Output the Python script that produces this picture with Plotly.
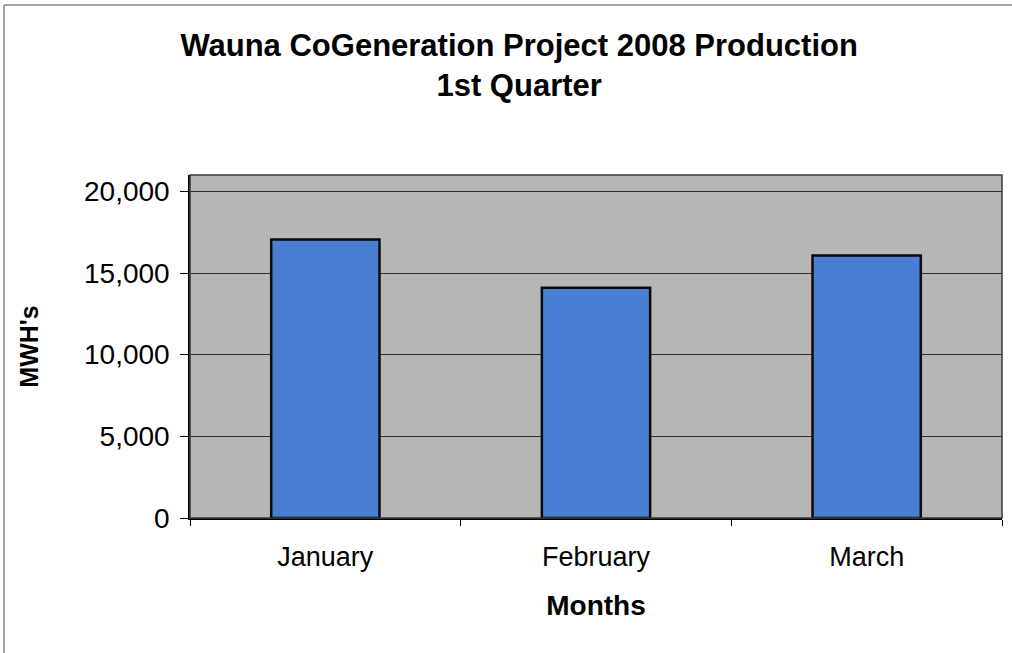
import plotly.graph_objects as go

months = ["January", "February", "March"]
mwh = [17050, 14100, 16070]
y_ticks = [0, 5000, 10000, 15000, 20000]
y_tick_text = ["0", "5,000", "10,000", "15,000", "20,000"]

fig = go.Figure()
fig.add_trace(go.Bar(
    x=months, y=mwh,
    marker=dict(color="#4a7ed2", line=dict(color="#0a0a0a", width=2.5)),
    hoverinfo="x+y",
))

fig.update_layout(
    width=1012, height=653,
    margin=dict(l=190, r=10, t=175, b=135),
    paper_bgcolor="white",
    plot_bgcolor="#b5b7b5",
    bargap=0.6,
    showlegend=False,
    font=dict(family="Liberation Sans, Arial, sans-serif", color="#000000"),
    title=dict(
        text="<b>Wauna CoGeneration Project 2008 Production<br>1st Quarter</b>",
        x=0.513, xanchor="center", y=1 - 56 / 653, yanchor="middle",
        font=dict(size=31, color="#000000"),
    ),
)

fig.update_xaxes(
    showgrid=False, showline=True, linecolor="#000000", linewidth=1.5,
    ticks="outside", tickson="boundaries", ticklen=6, tickcolor="#000000",
    tickfont=dict(size=27), mirror=False, ticklabelstandoff=14,
    title=dict(text="<b>Months</b>", font=dict(size=28), standoff=24),
)
fig.update_yaxes(
    range=[0, 21000], tickvals=y_ticks, ticktext=y_tick_text,
    showgrid=True, gridcolor="#2e2e2e", gridwidth=1.2,
    showline=True, linecolor="#000000", linewidth=1.5,
    ticks="outside", ticklen=8, tickcolor="#000000",
    tickfont=dict(size=28), zeroline=False, ticklabelstandoff=5,
    title=dict(text="<b>MWH's</b>", font=dict(size=25), standoff=38),
)

# plot frame
fig.add_shape(type="rect", xref="paper", yref="paper", x0=0, y0=0, x1=1, y1=1,
              line=dict(color="#3a3a3a", width=1.5), layer="above")
# chart border lines (top and left)
fig.add_shape(type="line", xref="paper", yref="paper", x0=-0.229, x1=1.03, y0=1.4956, y1=1.4956,
              line=dict(color="#888888", width=1.5))
fig.add_shape(type="line", xref="paper", yref="paper", x0=-0.229, x1=-0.229, y0=-0.45, y1=1.4956,
              line=dict(color="#888888", width=1.5))

fig.write_html("out.html", config={"displayModeBar": False},
               post_script="document.body.style.margin='0';")
